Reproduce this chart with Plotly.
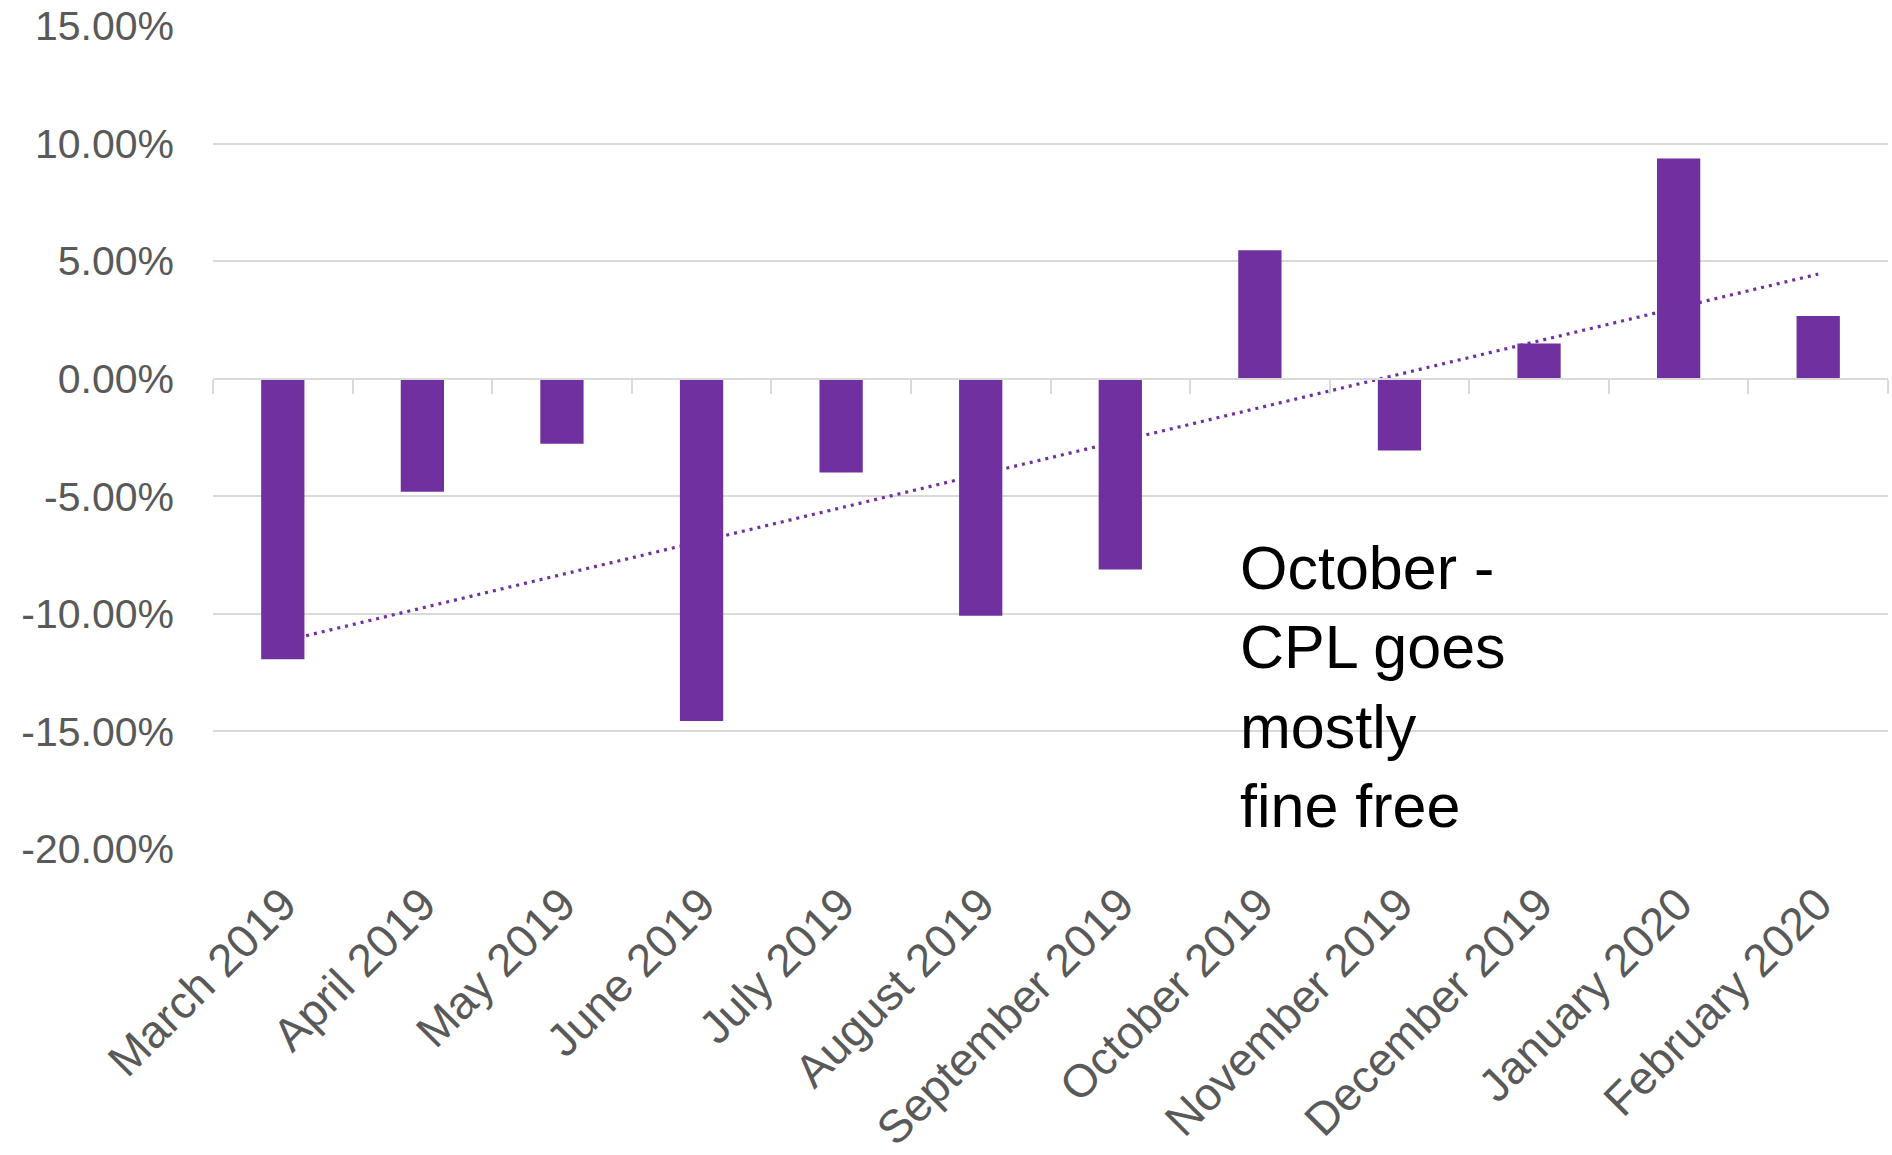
import numpy as np
import plotly.graph_objects as go

# Monthly change, in percent
months = ["March 2019", "April 2019", "May 2019", "June 2019", "July 2019",
          "August 2019", "September 2019", "October 2019", "November 2019",
          "December 2019", "January 2020", "February 2020"]
change_pct = [-11.93, -4.81, -2.77, -14.56, -3.99, -10.08,
              -8.11, 5.46, -3.05, 1.50, 9.37, 2.67]

y_ticks = [-20, -15, -10, -5, 0, 5, 10, 15]
y_tick_text = ["-20.00%", "-15.00%", "-10.00%", "-5.00%", "0.00%",
               "5.00%", "10.00%", "15.00%"]
note_text = "October -<br>CPL goes<br>mostly<br>fine free"

PURPLE = "#7030A0"
GRID = "#D9D9D9"
LABEL = "#595959"
FONT = "Arial, Liberation Sans, sans-serif"

# Linear trend line fitted over the month index
idx = np.arange(1, len(months) + 1)
slope, intercept = np.polyfit(idx, change_pct, 1)
trend = slope * idx + intercept

fig = go.Figure()
fig.add_trace(go.Bar(x=months, y=change_pct, marker_color=PURPLE,
                     marker_line_width=0, showlegend=False))
fig.add_trace(go.Scatter(x=months, y=trend, mode="lines",
                         line=dict(color=PURPLE, width=3.2, dash="3px,5px"),
                         showlegend=False))
# Category axis drawn across the zero line, ticks on category boundaries
fig.add_trace(go.Scatter(x=months, y=[None] * len(months), xaxis="x2",
                         showlegend=False, hoverinfo="skip"))

y_min, y_max = -20, 15

fig.add_annotation(text=note_text, x=6.84, y=-13.1, xref="x", yref="y",
                   xanchor="left", yanchor="middle", align="left",
                   showarrow=False, font=dict(family=FONT, size=61, color="#000000"))

fig.update_layout(
    width=1892, height=1155,
    margin=dict(l=213, r=4, t=26, b=306),
    paper_bgcolor="white", plot_bgcolor="white",
    bargap=0.69,
    font=dict(family=FONT, color=LABEL),
    xaxis=dict(type="category", categoryorder="array", categoryarray=months,
               range=[-0.5, len(months) - 0.5], automargin=False,
               showgrid=False, showline=False, zeroline=False, ticks="",
               tickangle=-45, ticklabelstandoff=18,
               tickfont=dict(family=FONT, size=46, color=LABEL)),
    xaxis2=dict(type="category", categoryorder="array", categoryarray=months,
                range=[-0.5, len(months) - 0.5], overlaying="x",
                anchor="free", position=(0 - y_min) / (y_max - y_min),
                side="bottom", showticklabels=False, showgrid=False,
                showline=True, linecolor=GRID, linewidth=2,
                tickson="boundaries", ticks="outside", ticklen=14,
                tickcolor=GRID, tickwidth=2, zeroline=False),
    yaxis=dict(range=[y_min, y_max], tickmode="array", tickvals=y_ticks,
               ticktext=y_tick_text, showgrid=True, gridcolor=GRID, gridwidth=2,
               zeroline=False, showline=False, ticks="", ticklabelstandoff=38,
               automargin=False,
               tickfont=dict(family=FONT, size=41, color=LABEL)),
)

fig.write_html("out.html")
